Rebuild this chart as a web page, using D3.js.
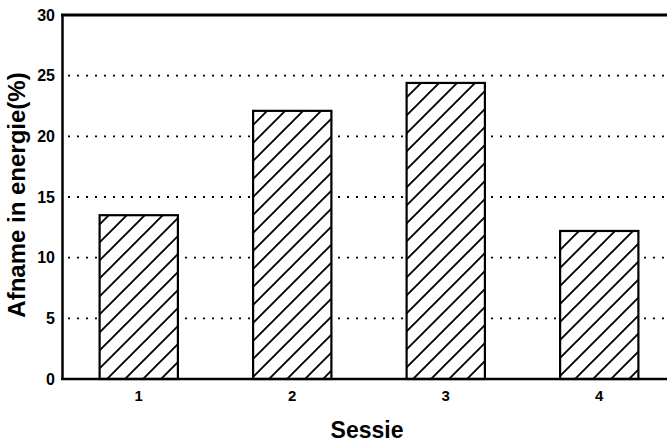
<!DOCTYPE html>
<html><head><meta charset="utf-8">
<script src="https://cdn.jsdelivr.net/npm/d3@7"></script>
<style>body{margin:0;background:#fff}svg{display:block}</style>
</head><body>
<svg id="c" width="667" height="443"></svg>
<script>
const categories = ["1", "2", "3", "4"];
const values = [13.5, 22.1, 24.4, 12.2];
const yTicks = [0, 5, 10, 15, 20, 25, 30];
const gridTicks = [5, 10, 15, 20, 25];
const xTitle = "Sessie";
const yTitle = "Afname in energie(%)";

const svg = d3.select("#c");
const m = {left: 62, top: 15, right: 676, bottom: 379};
const font = "'Liberation Sans', Arial, Helvetica, sans-serif";

const x = d3.scaleBand().domain(categories).range([m.left, m.right]).paddingInner(0.49).paddingOuter(0.245);
const y = d3.scaleLinear().domain([0, 30]).range([m.bottom, m.top]);

const defs = svg.append("defs");
const pat = defs.append("pattern").attr("id", "hatch").attr("patternUnits", "userSpaceOnUse")
  .attr("width", 18).attr("height", 18);
pat.append("rect").attr("width", 18).attr("height", 18).attr("fill", "#fff");
pat.append("path").attr("d", "M0,18 L18,0 M-4.5,4.5 L4.5,-4.5 M13.5,22.5 L22.5,13.5")
  .attr("stroke", "#000").attr("stroke-width", 1.9);

// dotted grid
svg.append("g").selectAll("line").data(gridTicks).join("line")
  .attr("x1", m.left + 6).attr("x2", 667)
  .attr("y1", d => y(d)).attr("y2", d => y(d))
  .attr("stroke", "#000").attr("stroke-width", 1.8).attr("stroke-dasharray", "2,7");

// bars
svg.append("g").selectAll("rect").data(values).join("rect")
  .attr("x", (d, i) => x(categories[i]))
  .attr("width", x.bandwidth())
  .attr("y", d => y(d))
  .attr("height", d => y(0) - y(d))
  .attr("fill", "url(#hatch)")
  .attr("stroke", "#000").attr("stroke-width", 2.2);

// axes
const yAxis = d3.axisLeft(y).tickValues(yTicks).tickSize(0).tickPadding(7).tickFormat(d3.format("d"));
const gy = svg.append("g").attr("transform", `translate(${m.left},0)`).call(yAxis);
gy.select(".domain").attr("stroke", "#000").attr("stroke-width", 2.5);
gy.selectAll("text").attr("font-family", font).attr("font-weight", "bold").attr("font-size", 16).attr("fill", "#000");

const xAxis = d3.axisBottom(x).tickSize(0).tickPadding(11);
const gx = svg.append("g").attr("transform", `translate(0,${m.bottom})`).call(xAxis);
gx.select(".domain").remove();
gx.selectAll("text").attr("font-family", font).attr("font-weight", "bold").attr("font-size", 15).attr("fill", "#000");

// frame lines
svg.append("line").attr("x1", m.left - 1).attr("x2", 667).attr("y1", y(0)).attr("y2", y(0))
  .attr("stroke", "#000").attr("stroke-width", 2.5);
svg.append("line").attr("x1", m.left - 1).attr("x2", 667).attr("y1", y(30)).attr("y2", y(30))
  .attr("stroke", "#000").attr("stroke-width", 3);

// titles
svg.append("text").attr("x", (m.left + m.right) / 2 - 2).attr("y", 438)
  .attr("text-anchor", "middle").attr("font-family", font).attr("font-weight", "bold")
  .attr("font-size", 23).text(xTitle);
svg.append("text").attr("transform", `translate(25,${(y(0) + y(30)) / 2 - 2}) rotate(-90)`)
  .attr("text-anchor", "middle").attr("font-family", font).attr("font-weight", "bold")
  .attr("font-size", 24).text(yTitle);
</script>
</body></html>
